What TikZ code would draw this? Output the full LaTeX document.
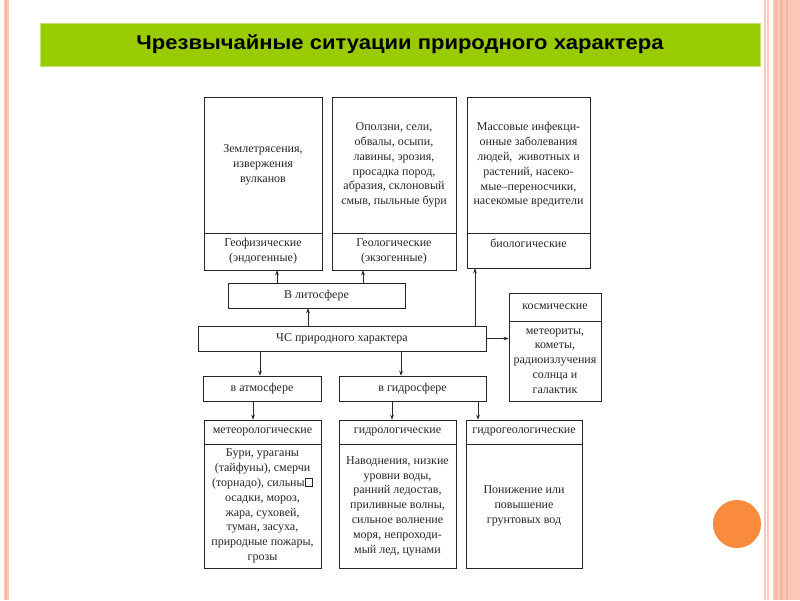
\documentclass[tikz,border=0pt]{standalone}
\usepackage{fontspec}
\setmainfont{Liberation Serif}
\newfontfamily\titlefont[FakeStretch=1.1]{Liberation Sans}
\usetikzlibrary{arrows.meta}
\usetikzlibrary{positioning}

\definecolor{slidegreen}{HTML}{99CC00}
\definecolor{slidepink}{HTML}{FCC9B8}
\definecolor{pinkdark}{HTML}{F8B49C}
\definecolor{slideorange}{HTML}{FA8A3C}

\newcommand{\missbox}{{\fboxsep=0pt\fboxrule=0.5pt\fbox{\rule{0pt}{1.5ex}\hspace{1.3ex}}}}

\tikzset{
  box/.style={draw=black!85, line width=0.6pt, rectangle, align=center, inner sep=1pt,
              font=\fontsize{12}{14.8}\selectfont, text=black!85},
  arr/.style={-{Stealth[length=5pt,width=3.6pt]}, line width=0.6pt, draw=black!85},
}

\begin{document}
\begin{tikzpicture}[x=1pt, y=-1pt]
\useasboundingbox (0,0) rectangle (800,600);
% slide frame
\fill[slidepink] (3.5,0) rectangle (8.5,600);
\fill[pinkdark] (5,0) rectangle (7,600);
\fill[slidepink] (764,0) rectangle (766,600);
\fill[slidepink] (767,0) rectangle (768.5,600);
\fill[slidepink] (772.5,0) rectangle (800,600);
\fill[pinkdark] (774.5,0) rectangle (777,600);
\fill[pinkdark] (779.5,0) rectangle (782.5,600);
\fill[pinkdark] (786,0) rectangle (788,600);
\fill[slideorange] (737,524) circle (24);
% title
\node[fill=slidegreen, draw=slidegreen!55!white, minimum width=720pt, minimum height=43pt,
      font=\titlefont\bfseries\fontsize{20}{24}\selectfont] (title) at (400,44.5)
      {Чрезвычайные ситуации природного характера};

% top row
\node[box, minimum width=118pt, minimum height=136pt] (geo) at (263,165) {Землетрясения,\\извержения\\вулканов};
\node[box, minimum width=118pt, minimum height=37pt] (geolab) at (263,251.5) {Геофизические\\(эндогенные)};
\node[box, minimum width=124pt, minimum height=136pt] (geol) at (394,165) {Оползни, сели,\\обвалы, осыпи,\\лавины, эрозия,\\просадка пород,\\абразия, склоновый\\смыв, пыльные бури};
\node[box, minimum width=124pt, minimum height=37pt] (geollab) at (394,251.5) {Геологические\\(экзогенные)};
\node[box, minimum width=123pt, minimum height=136pt] (bio) at (528.5,165) {Массовые инфекци-\\онные заболевания\\людей,~ животных и\\растений, насеко-\\мые–переносчики,\\насекомые вредители};
\node[box, minimum width=123pt, minimum height=35pt] (biolab) at (528.5,250.5) {биологические\\[0pt]\mbox{}};

% middle
\node[box, minimum width=177pt, minimum height=25pt] (lit) at (316.5,295.5) {В литосфере};
\node[box, minimum width=288pt, minimum height=25pt] (chs) at (342,338.5) {ЧС природного характера};
\node[box, minimum width=92pt, minimum height=28pt] (koslab) at (555,307) {космические};
\node[box, minimum width=92pt, minimum height=80pt] (kos) at (555,361) {метеориты,\\кометы,\\радиоизлучения\\солнца и\\галактик};
\node[box, minimum width=118pt, minimum height=25pt] (atm) at (262,388.5) {в атмосфере};
\node[box, minimum width=147pt, minimum height=25pt] (hyd) at (412.5,388.5) {в гидросфере};

% bottom row
\node[box, minimum width=117pt, minimum height=24pt] (metlab) at (262.5,432) {метеорологические};
\node[box, minimum width=117pt, minimum height=124pt] (met) at (262.5,506) {Бури, ураганы\\(тайфуны), смерчи\\(торнадо), сильны\missbox\\осадки, мороз,\\жара, суховей,\\туман, засуха,\\природные пожары,\\грозы};
\node[box, minimum width=117pt, minimum height=24pt] (hydrlab) at (397.5,432) {гидрологические};
\node[box, minimum width=117pt, minimum height=124pt] (hydr) at (397.5,506) {Наводнения, низкие\\уровни воды,\\ранний ледостав,\\приливные волны,\\сильное волнение\\моря, непроходи-\\мый лед, цунами};
\node[box, minimum width=116pt, minimum height=24pt] (hgeolab) at (524,432) {гидрогеологические};
\node[box, minimum width=116pt, minimum height=124pt] (hgeo) at (524,506) {Понижение или\\повышение\\грунтовых вод};

% connectors
\draw[arr] (lit.north -| 277,0) -- (geolab.south -| 277,0);
\draw[arr] (lit.north -| 363,0) -- (geollab.south -| 363,0);
\draw[arr] (chs.north -| 308,0) -- (lit.south -| 308,0);
\draw[arr] (chs.north -| 475,0) -- (biolab.south -| 475,0);
\draw[arr] (chs.east) -- (chs.east -| kos.west);
\draw[arr] (chs.south -| 260,0) -- (atm.north -| 260,0);
\draw[arr] (chs.south -| 401,0) -- (hyd.north -| 401,0);
\draw[arr] (atm.south -| 253,0) -- (metlab.north -| 253,0);
\draw[arr] (hyd.south -| 392,0) -- (hydrlab.north -| 392,0);
\draw[arr] (hyd.south -| 478,0) -- (hgeolab.north -| 478,0);
\end{tikzpicture}
\end{document}
